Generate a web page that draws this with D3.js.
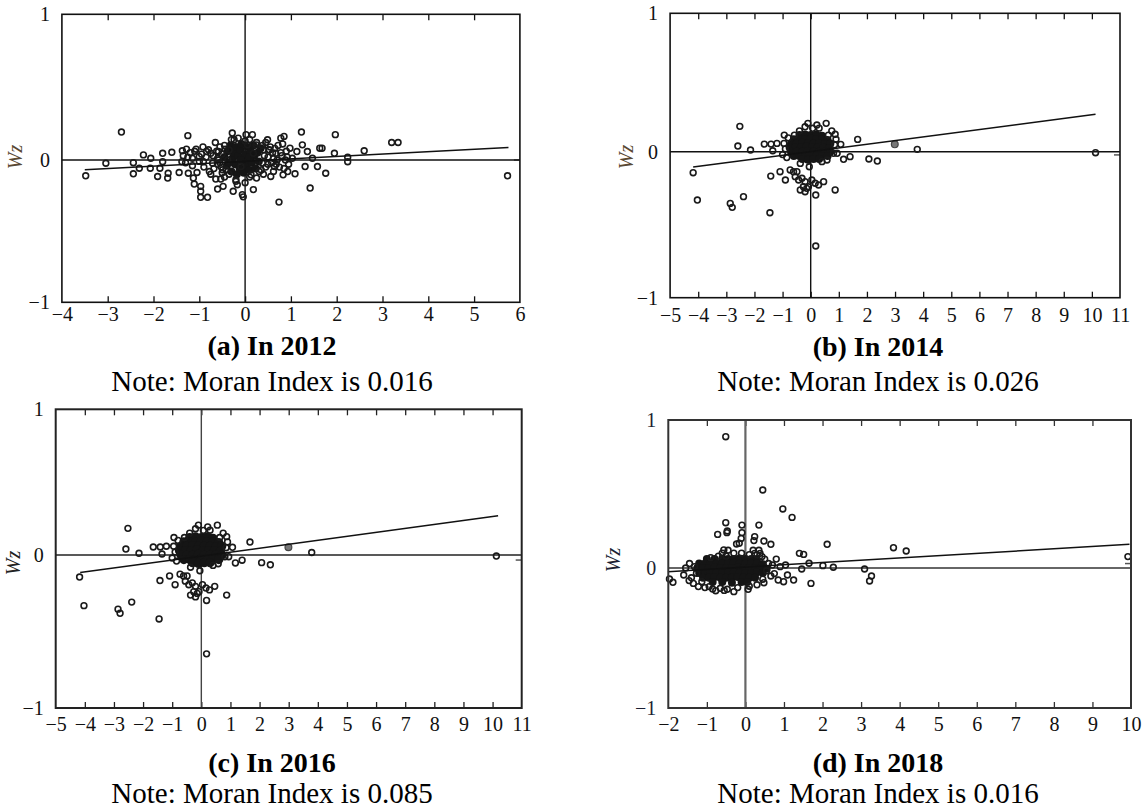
<!DOCTYPE html>
<html>
<head>
<meta charset="utf-8">
<title>Moran scatter plots</title>
<script src="https://cdn.jsdelivr.net/npm/d3@7"></script>
<style>
  body { margin: 0; background: #fff; }
  text { font-family: "Liberation Serif", "Times New Roman", serif; }
</style>
</head>
<body>
<div id="chart"></div>
<script>
// ---- data: [z, Wz] ----
var points2012 = [
  [-3.48,-0.111],[-3.04,-0.023],[-2.70,0.192],[-2.44,-0.019],[-2.44,-0.097],[-2.31,-0.058],
  [-2.22,0.035],[-2.06,0.012],[-2.07,-0.058],[-1.91,-0.116],[-1.86,-0.058],[-1.80,0.046],
  [-1.80,-0.012],[-1.69,-0.127],[-1.68,-0.093],[-1.60,0.053],[-1.44,-0.088],[-1.37,0.063],
  [-1.38,-0.012],[-1.28,0.074],[-1.25,0.167],[-1.24,-0.093],[-1.15,0.012],[-1.13,-0.127],
  [-1.11,-0.169],[-1.07,0.074],[-1.05,-0.088],[-1.00,0.023],[-0.97,-0.185],[-0.97,-0.22],
  [-0.97,-0.262],[-0.91,-0.012],[-0.84,0.058],[-0.82,-0.262],[-0.78,-0.081],[-0.75,0.046],
  [-0.71,-0.023],[-0.64,-0.134],[-0.60,-0.204],[-0.58,0.058],[-0.55,-0.019],[-0.53,-0.134],
  [-0.49,-0.069],[-0.48,-0.185],[-0.43,0.074],[-0.38,0.0],[-0.35,0.069],[-0.28,0.185],
  [-0.26,-0.22],[-0.24,0.139],[-0.20,-0.139],[-0.17,-0.174],[-0.09,-0.046],[-0.06,-0.243],
  [-0.04,-0.259],[0.02,0.174],[0.05,0.104],[0.13,-0.104],[0.16,0.174],[0.18,0.046],
  [0.18,-0.208],[0.24,0.104],[0.25,-0.127],[0.31,-0.081],[0.38,-0.023],[0.49,0.139],
  [0.53,0.069],[0.56,-0.116],[0.64,-0.046],[0.67,0.046],[0.74,-0.296],[0.78,0.15],
  [0.83,-0.104],[0.85,0.162],[0.93,-0.081],[0.98,0.081],[1.03,0.012],[1.09,-0.097],
  [1.13,0.058],[1.23,0.192],[1.25,0.104],[1.31,-0.046],[1.36,0.058],[1.42,-0.197],
  [1.47,0.012],[1.58,-0.046],[1.63,0.081],[1.68,0.081],[1.76,-0.093],[1.95,0.046],
  [1.97,0.174],[2.24,0.019],[2.24,-0.012],[2.60,0.063],[3.20,0.12],[3.34,0.12],[5.73,-0.111],
  [-1.35,0.03],[-1.30,-0.02],[-1.20,0.05],[-1.15,-0.04],[-1.10,0.06],[-0.95,0.04],
  [-0.90,-0.05],[-0.85,0.02],[-0.80,0.07],[-0.70,0.03],[-0.68,-0.06],[-0.62,0.06],
  [-0.60,-0.03],[-0.55,0.09],[-0.50,-0.09],[-0.50,0.04],[-0.45,-0.12],[0.35,-0.07],
  [0.40,0.07],[0.42,0.03],[0.45,-0.05],[0.50,0.02],[0.55,0.09],[0.58,-0.02],[0.60,0.05],
  [0.62,-0.08],[0.70,0.0],[0.72,0.10],[0.75,-0.05],[0.80,0.03],[0.82,0.11],[0.88,0.0],
  [0.90,0.06],[0.95,-0.03],[-0.30,0.14],[-0.15,0.15],[0.0,0.13],[0.10,0.14],[0.25,0.12],
  [-0.20,-0.15],[0.0,-0.16],[0.10,-0.12],[-0.35,-0.10],
  [-1.25,0.02],[-1.00,-0.01],[-0.92,0.09],[-0.75,-0.10],[-0.65,0.12],[-0.58,0.0],
  [-0.52,-0.05],[-0.45,0.10],[-0.42,-0.07],[0.38,0.10],[0.40,-0.10],[0.45,0.12],
  [0.50,-0.03],[0.52,0.07],[0.65,0.08],[0.68,-0.03],[0.78,0.05],[0.85,-0.06],
  [0.92,0.02],[-0.60,0.01],[0.62,0.01]
];
// saturated centre where the circles overlap into a solid mass
var core2012 = [
  [-0.45,0.02],[-0.40,-0.04],[-0.38,0.06],[-0.32,0.10],[-0.30,-0.08],[-0.28,0.01],[-0.25,0.05],
  [-0.22,-0.03],[-0.20,0.09],[-0.18,-0.10],[-0.15,0.03],[-0.12,-0.06],[-0.10,0.07],[-0.08,0.11],
  [-0.05,-0.01],[-0.03,-0.09],[0.0,0.04],[0.02,-0.04],[0.05,0.09],[0.07,0.0],[0.10,-0.07],
  [0.12,0.06],[0.15,-0.02],[0.18,0.10],[0.20,0.03],[0.23,-0.06],[0.27,0.05],[0.30,-0.01],
  [0.34,0.08],[-0.35,-0.02],[-0.10,0.0],[0.10,0.02]
];

var points2014 = [
  [-4.18,-0.144],[-4.03,-0.331],[-2.86,-0.354],[-2.79,-0.381],[-2.52,0.183],[-2.59,0.041],
  [-2.39,-0.308],[-2.14,0.012],[-1.65,0.055],[-1.45,-0.418],[-1.42,-0.167],[-1.41,0.055],
  [-1.35,0.007],[-1.20,0.06],[-1.09,-0.137],[-0.94,0.12],[-0.90,-0.194],[-0.73,-0.125],
  [-0.61,-0.137],[-0.49,-0.137],[-0.58,0.12],[-0.55,-0.171],[-0.43,-0.194],[-0.31,-0.182],
  [-0.20,-0.205],[-0.26,-0.24],[-0.14,-0.251],[-0.37,-0.262],[-0.20,-0.274],[-0.08,-0.24],
  [0.04,-0.194],[0.16,-0.216],[0.28,-0.228],[0.46,-0.205],[0.18,-0.297],[0.87,-0.262],
  [0.18,-0.646],[-0.10,0.205],[-0.05,-0.103],[0.07,0.169],[0.22,0.193],[-0.20,0.18],
  [0.55,0.205],[0.40,-0.068],[0.58,-0.057],[0.81,-0.011],[0.63,0.12],[0.87,0.126],
  [0.94,-0.011],[1.07,0.053],[1.17,-0.052],[1.40,-0.034],[1.67,0.089],[2.07,-0.05],
  [2.37,-0.064],[3.79,0.017],[10.13,-0.007],[-0.37,-0.08],[-0.90,0.02],[-1.00,-0.02],
  [-0.95,0.06],[-0.85,-0.04],[-0.80,0.10],[0.75,0.15],[0.30,0.17],[-0.40,0.15],[0.85,0.05],
  [0.90,0.09]
];
var grey2014 = [[2.99,0.053]];
var core2014 = [
  [-0.40,0.12],[-0.20,0.125],[0.0,0.12],[0.20,0.125],[0.40,0.115],
  [-0.60,0.09],[-0.40,0.09],[-0.20,0.09],[0.0,0.095],[0.20,0.09],[0.40,0.09],[0.60,0.085],
  [-0.70,0.06],[-0.50,0.06],[-0.30,0.065],[-0.10,0.06],[0.10,0.06],[0.30,0.06],[0.50,0.055],[0.70,0.06],
  [-0.75,0.03],[-0.55,0.03],[-0.35,0.03],[-0.15,0.035],[0.05,0.03],[0.25,0.03],[0.45,0.03],[0.65,0.025],
  [-0.70,0.0],[-0.50,0.0],[-0.30,0.0],[-0.10,0.005],[0.10,0.0],[0.30,0.0],[0.50,0.0],[0.70,0.0],
  [-0.60,-0.03],[-0.40,-0.03],[-0.20,-0.03],[0.0,-0.025],[0.20,-0.03],[0.40,-0.03],[0.60,-0.03],
  [-0.30,-0.05],[-0.10,-0.055],[0.10,-0.05],[0.30,-0.05]
];

// (c) shows the same scatter as (b)
var points2016 = points2014;
var grey2016 = grey2014;
var core2016 = core2014;

var points2018 = [
  [-0.51,0.887],[0.45,0.527],[0.97,0.399],[1.21,0.342],[0.35,0.29],[-0.51,0.306],
  [-0.48,0.239],[-0.72,0.227],[-0.47,0.25],[-0.09,0.29],[-0.09,0.239],[-0.11,0.20],
  [-0.16,0.167],[0.24,0.212],[0.22,0.185],[0.48,0.182],[0.66,0.16],[-0.23,0.162],
  [-0.56,0.122],[2.12,0.16],[3.84,0.137],[4.17,0.115],[1.40,0.099],[1.51,0.092],
  [1.65,0.032],[1.46,-0.007],[2.01,0.016],[2.28,0.005],[3.09,-0.007],[3.27,-0.057],
  [3.22,-0.093],[1.70,-0.11],[1.25,-0.086],[9.92,0.077],[-1.97,-0.079],[-1.88,-0.102],
  [-1.46,-0.09],[-1.32,0.009],[-1.27,-0.038],[-1.22,-0.133],[-1.13,-0.098],[-0.94,-0.133],
  [-0.77,-0.162],[-0.65,-0.145],[-0.47,-0.152],[-0.30,-0.169],[0.07,-0.152],[0.48,-0.105],
  [0.66,-0.057],[0.85,-0.086],[0.99,-0.098],[1.09,-0.05],[0.90,0.009],[1.04,0.02],
  [0.38,0.099],[0.24,0.099],[0.43,0.077],
  [-1.60,-0.05],[-1.55,0.0],[-1.45,0.03],[-1.40,-0.07],[-1.35,-0.11],[-1.05,-0.14],
  [-0.85,-0.15],[-0.55,-0.16],[-0.20,-0.14],[0.10,-0.13],[0.30,-0.12],[0.45,-0.08],
  [0.55,-0.02],[0.60,0.03],[0.70,0.02],[0.75,-0.04],[0.80,0.06],[0.50,0.06],[0.30,0.09],
  [0.10,0.09],[-0.10,0.10],[-0.30,0.10],[-0.50,0.08],[-0.70,0.08],[-0.60,0.10],
  [-0.45,0.12],[-0.90,0.07],[0.20,0.12],[0.35,0.12]
];
var grey2018 = [];
var core2018 = [
  [-1.0,0.06],[-0.8,0.06],[-0.6,0.065],[-0.45,0.06],[-0.3,0.06],[-0.15,0.065],[0.0,0.06],[0.15,0.06],[0.3,0.055],
  [-1.2,0.03],[-1.05,0.03],[-0.9,0.035],[-0.75,0.03],[-0.6,0.03],[-0.45,0.03],[-0.3,0.035],[-0.15,0.03],
  [0.0,0.03],[0.15,0.03],[0.3,0.03],[0.45,0.025],
  [-1.25,0.0],[-1.1,0.0],[-0.95,0.0],[-0.8,0.005],[-0.65,0.0],[-0.5,0.0],[-0.35,0.0],[-0.2,0.005],
  [-0.05,0.0],[0.1,0.0],[0.25,0.0],[0.4,0.0],[0.55,-0.005],
  [-1.2,-0.035],[-1.05,-0.035],[-0.9,-0.03],[-0.75,-0.035],[-0.6,-0.035],[-0.45,-0.035],[-0.3,-0.03],
  [-0.15,-0.035],[0.0,-0.035],[0.15,-0.035],[0.3,-0.03],[0.45,-0.035],
  [-1.1,-0.07],[-0.95,-0.07],[-0.8,-0.065],[-0.65,-0.07],[-0.5,-0.07],[-0.35,-0.07],[-0.2,-0.065],
  [-0.05,-0.07],[0.1,-0.07],[0.25,-0.07],
  [-0.85,-0.1],[-0.6,-0.1],[-0.35,-0.105],[-0.1,-0.1],[0.05,-0.1]
];

// fitted lines (end points)
var fit2012 = [[-3.5,-0.068],[5.75,0.085]];
var fit2014 = [[-4.18,-0.105],[10.13,0.27]];
var fit2016 = [[-4.16,-0.115],[10.19,0.27]];
var fit2018 = [[-2.01,-0.026],[9.96,0.16]];

var xTicks2012 = [-4,-3,-2,-1,0,1,2,3,4,5,6];
var xTicks2014 = [-5,-4,-3,-2,-1,0,1,2,3,4,5,6,7,8,9,10,11];
var xTicks2016 = xTicks2014;
var xTicks2018 = [-2,-1,0,1,2,3,4,5,6,7,8,9,10];
var yTicks = [-1,0,1];

var titles = ["(a) In 2012", "(b) In 2014", "(c) In 2016", "(d) In 2018"];
var moran = ["0.016", "0.026", "0.085", "0.016"];

// ---- layout ----
var panels = [
  {left:61.9, right:519.9, top:14.3, zero:160, bottom:302.3, pad:5, wz:[15,157], wzColor:"#5a4933",
   titleX:272, titleY:355, noteY:391, ink:"#111", vline:"#111", coreR:4,
   pts:points2012, grey:[], core:core2012, fit:fit2012, ticks:xTicks2012, rtick:0},
  {left:670.1, right:1120, top:13.3, zero:151.7, bottom:297.7, pad:10, wz:[626,157], wzColor:"#5a4933",
   titleX:878, titleY:356, noteY:391, ink:"#111", vline:"#111", coreR:4,
   pts:points2014, grey:grey2014, core:core2014, fit:fit2014, ticks:xTicks2014, rtick:-0.022},
  {left:55.7, right:521.7, top:409.3, zero:555, bottom:708, pad:9, wz:[13,563], wzColor:"#222",
   titleX:272, titleY:772, noteY:803, ink:"#222", vline:"#444", coreR:4.6,
   pts:points2016, grey:grey2016, core:core2016, fit:fit2016, ticks:xTicks2016, rtick:-0.033},
  {left:668.3, right:1131, top:420, zero:568, bottom:708, pad:9, wz:[613,560], wzColor:"#1c1f33",
   titleX:878, titleY:772, noteY:803, ink:"#333", vline:"#666", coreR:4,
   pts:points2018, grey:grey2018, core:core2018, fit:fit2018, ticks:xTicks2018, rtick:0.03}
];

var svg = d3.select("#chart").append("svg")
  .attr("width", 1142).attr("height", 810)
  .attr("xmlns", "http://www.w3.org/2000/svg");

function fmt(d) { return d < 0 ? "\u2212" + Math.abs(d) : String(d); }

panels.forEach(function(p, i) {
  var t = p.ticks;
  var x = d3.scaleLinear().domain([t[0], t[t.length - 1]]).range([p.left, p.right]);
  var y = d3.scaleLinear().domain([-1, 0, 1]).range([p.bottom, p.zero, p.top]);
  var inner = t.slice(1, -1);
  var g = svg.append("g");

  // inward ticks on top and bottom edges
  g.append("g").attr("transform", "translate(0," + p.top + ")")
    .call(d3.axisBottom(x).tickValues(inner).tickSize(6).tickFormat(""))
    .call(function(a) { a.select(".domain").remove(); a.selectAll("line").attr("stroke", p.ink).attr("stroke-width", 1.3); });
  g.append("g").attr("transform", "translate(0," + p.bottom + ")")
    .call(d3.axisTop(x).tickValues(inner).tickSize(6).tickFormat(""))
    .call(function(a) { a.select(".domain").remove(); a.selectAll("line").attr("stroke", p.ink).attr("stroke-width", 1.3); });

  // tick labels
  g.append("g").attr("transform", "translate(0," + p.bottom + ")")
    .call(d3.axisBottom(x).tickValues(t).tickSize(0).tickPadding(p.pad).tickFormat(fmt))
    .call(function(a) {
      a.select(".domain").remove();
      a.attr("font-family", null).attr("font-size", null);
      a.selectAll("text").attr("font-size", 20).attr("fill", "#111");
    });
  g.append("g").attr("transform", "translate(" + p.left + ",0)")
    .call(d3.axisLeft(y).tickValues(yTicks).tickSize(0).tickPadding(12).tickFormat(fmt))
    .call(function(a) {
      a.select(".domain").remove();
      a.attr("font-family", null).attr("font-size", null);
      a.selectAll("text").attr("font-size", 20).attr("fill", i == 3 ? "#1c1f33" : "#111");
    });

  // small tick on right edge
  g.append("line")
    .attr("x1", p.right - 6).attr("x2", p.right)
    .attr("y1", y(p.rtick)).attr("y2", y(p.rtick))
    .attr("stroke", "#555").attr("stroke-width", 1.5);

  // quadrant lines
  g.append("line").attr("x1", p.left).attr("x2", p.right)
    .attr("y1", y(0)).attr("y2", y(0))
    .attr("stroke", p.ink).attr("stroke-width", 1.4);
  g.append("line").attr("x1", x(0)).attr("x2", x(0))
    .attr("y1", p.top).attr("y2", p.bottom)
    .attr("stroke", p.vline).attr("stroke-width", i == 3 ? 2.2 : 1.4);

  // points
  g.append("g").selectAll("circle").data(p.core).enter().append("circle")
    .attr("cx", function(d) { return x(d[0]); })
    .attr("cy", function(d) { return y(d[1]); })
    .attr("r", p.coreR).attr("fill", "#151515");
  g.append("g").selectAll("circle").data(p.pts).enter().append("circle")
    .attr("cx", function(d) { return x(d[0]); })
    .attr("cy", function(d) { return y(d[1]); })
    .attr("r", 2.9).attr("fill", "none")
    .attr("stroke", "#1a1a1a").attr("stroke-width", 1.6);
  g.append("g").selectAll("circle").data(p.grey).enter().append("circle")
    .attr("cx", function(d) { return x(d[0]); })
    .attr("cy", function(d) { return y(d[1]); })
    .attr("r", 3.4).attr("fill", "#777")
    .attr("stroke", "#444").attr("stroke-width", 1.2);

  // fitted line
  g.append("path").datum(p.fit)
    .attr("d", d3.line().x(function(d) { return x(d[0]); }).y(function(d) { return y(d[1]); }))
    .attr("fill", "none").attr("stroke", "#111").attr("stroke-width", 1.5);

  // frame
  g.append("rect")
    .attr("x", p.left).attr("y", p.top)
    .attr("width", p.right - p.left).attr("height", p.bottom - p.top)
    .attr("fill", "none").attr("stroke", p.ink).attr("stroke-width", i >= 2 ? 2 : 1.6);

  // y label
  g.append("text")
    .attr("transform", "translate(" + p.wz[0] + "," + p.wz[1] + ") rotate(-90)")
    .attr("text-anchor", "middle").attr("dy", "0.35em")
    .attr("font-size", 20).attr("font-style", "italic").attr("fill", p.wzColor)
    .text("Wz");

  // caption
  svg.append("text").attr("x", p.titleX).attr("y", p.titleY)
    .attr("text-anchor", "middle").attr("font-size", 28).attr("font-weight", "bold")
    .attr("fill", "#000").text(titles[i]);
  svg.append("text").attr("x", p.titleX).attr("y", p.noteY)
    .attr("text-anchor", "middle").attr("font-size", 29)
    .attr("fill", "#000").text("Note: Moran Index is " + moran[i]);
});
</script>
</body>
</html>
